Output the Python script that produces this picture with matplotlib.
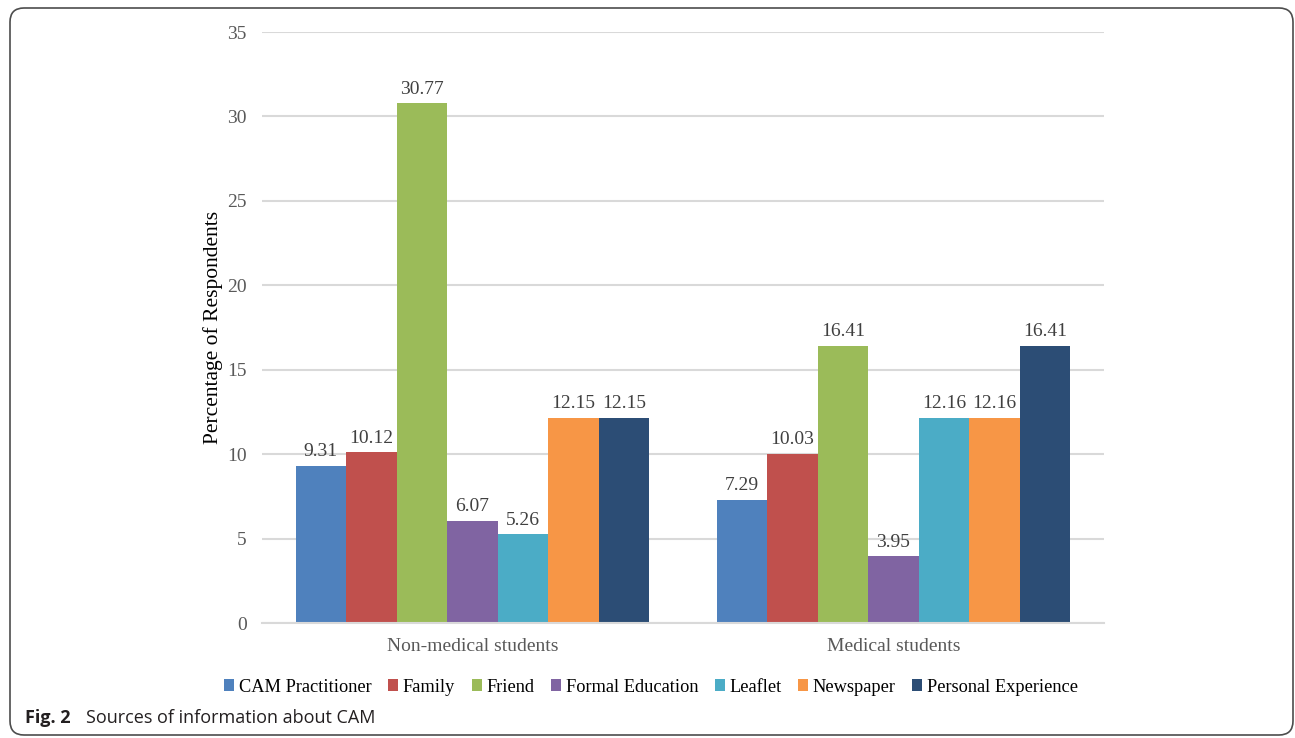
import matplotlib.pyplot as plt
import numpy as np
from matplotlib.patches import FancyBboxPatch
from matplotlib.transforms import IdentityTransform

# Sources of information about CAM, % of respondents
groups = ['Non-medical students', 'Medical students']
sources = ['CAM Practitioner', 'Family', 'Friend', 'Formal Education',
           'Leaflet', 'Newspaper', 'Personal Experience']
non_medical = [9.31, 10.12, 30.77, 6.07, 5.26, 12.15, 12.15]
medical = [7.29, 10.03, 16.41, 3.95, 12.16, 12.16, 16.41]
colors = ['#4F81BD', '#C0504D', '#9BBB59', '#8064A2',
          '#4BACC6', '#F79646', '#2C4D75']

serif = ['Liberation Serif', 'DejaVu Serif']

fig = plt.figure(figsize=(12.95, 7.38), dpi=100)
ax = fig.add_axes([0.2023, 0.1558, 0.6502, 0.8008])

x = np.arange(len(groups))
n = len(sources)
group_w = 0.84
w = group_w / n
handles = []
for i, src in enumerate(sources):
    vals = [non_medical[i], medical[i]]
    pos = x - group_w / 2 + w * (i + 0.5)
    bars = ax.bar(pos, vals, width=w, color=colors[i], label=src, zorder=2)
    handles.append(bars)
    for xp, v in zip(pos, vals):
        ax.annotate(f'{v:.2f}', (xp, v), xytext=(0, 4), textcoords='offset points',
                    ha='center', va='bottom', fontsize=14, color='#404040',
                    family=serif)

ax.set_xlim(-0.5, 1.5)
ax.set_ylim(0, 35)
ax.set_yticks(range(0, 36, 5))
ax.set_xticks(x)
ax.set_xticklabels(groups, family=serif, fontsize=14, color='#595959')
for lbl in ax.get_yticklabels():
    lbl.set_family(serif)
    lbl.set_fontsize(14)
    lbl.set_color('#595959')
ax.tick_params(length=0, axis='y', pad=11)
ax.tick_params(length=0, axis='x', pad=11)
ax.grid(axis='y', color='#D9D9D9', linewidth=1.5, zorder=0)
for s in ['top', 'right', 'left']:
    ax.spines[s].set_visible(False)
ax.spines['bottom'].set_color('#D9D9D9')
ax.spines['bottom'].set_linewidth(1.5)
ax.set_ylabel('Percentage of Respondents', family=serif, fontsize=15.5,
              color='#000000', labelpad=3)

fig.legend(handles=handles, loc='center', bbox_to_anchor=(651 / 1295, 1 - 687 / 738),
           ncol=n, frameon=False, handlelength=0.55, handleheight=0.55,
           handletextpad=0.25, columnspacing=0.9,
           prop={'family': serif, 'size': 13.2})

# caption and rounded frame
fig.text(25 / 1295, 1 - 718 / 738, 'Fig. 2', fontsize=13, fontweight='bold',
         family='Open Sans', va='center', ha='left', color='#231F20')
fig.text(86 / 1295, 1 - 718 / 738, 'Sources of information about CAM', fontsize=13,
         family='Open Sans', va='center', ha='left', color='#231F20')
frame = FancyBboxPatch((10, 3), 1283, 727, boxstyle='round,pad=0,rounding_size=14',
                       transform=IdentityTransform(), fill=False,
                       edgecolor='#4D4D4D', linewidth=1.2)
fig.patches.append(frame)

plt.savefig('out.png', dpi=100)
